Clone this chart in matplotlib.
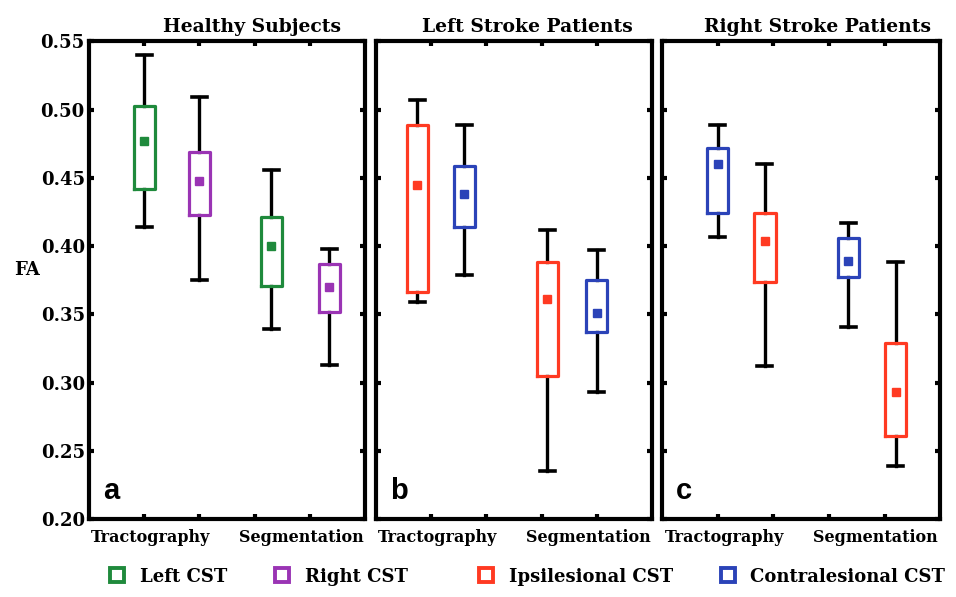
import matplotlib
matplotlib.use("Agg")
import matplotlib.pyplot as plt
from matplotlib.lines import Line2D

# ---------------- data ----------------
titles = ["Healthy Subjects", "Left Stroke Patients", "Right Stroke Patients"]
panel_letters = ["a", "b", "c"]
group_labels = ["Tractography", "Segmentation"]
y_ticks = [0.20, 0.25, 0.30, 0.35, 0.40, 0.45, 0.50, 0.55]

# series per panel (box order left to right)
series_a = ["Left CST", "Right CST", "Left CST", "Right CST"]
series_b = ["Ipsilesional CST", "Contralesional CST", "Ipsilesional CST", "Contralesional CST"]
series_c = ["Contralesional CST", "Ipsilesional CST", "Contralesional CST", "Ipsilesional CST"]

pos_a = [1.0, 2.0, 3.3, 4.35]
pos_b = [0.75, 1.6, 3.1, 4.0]
pos_c = [1.0, 1.85, 3.35, 4.2]

whishi_a = [0.540, 0.509, 0.456, 0.398]
q3_a     = [0.503, 0.469, 0.421, 0.387]
mid_a    = [0.477, 0.448, 0.400, 0.370]
q1_a     = [0.442, 0.423, 0.371, 0.352]
whislo_a = [0.414, 0.375, 0.339, 0.313]

whishi_b = [0.507, 0.489, 0.412, 0.397]
q3_b     = [0.489, 0.459, 0.388, 0.375]
mid_b    = [0.445, 0.438, 0.361, 0.351]
q1_b     = [0.366, 0.414, 0.305, 0.337]
whislo_b = [0.359, 0.379, 0.235, 0.293]

whishi_c = [0.489, 0.460, 0.417, 0.388]
q3_c     = [0.472, 0.424, 0.406, 0.329]
mid_c    = [0.460, 0.404, 0.389, 0.293]
q1_c     = [0.424, 0.374, 0.377, 0.261]
whislo_c = [0.407, 0.312, 0.341, 0.239]

colors = {
    "Left CST": "#1f8a3c",
    "Right CST": "#9a34b4",
    "Ipsilesional CST": "#ff3a22",
    "Contralesional CST": "#2b43b8",
}

panels = [
    (series_a, pos_a, whishi_a, q3_a, mid_a, q1_a, whislo_a),
    (series_b, pos_b, whishi_b, q3_b, mid_b, q1_b, whislo_b),
    (series_c, pos_c, whishi_c, q3_c, mid_c, q1_c, whislo_c),
]

# ---------------- figure ----------------
serif = ["DejaVu Serif"]
fig = plt.figure(figsize=(9.56, 5.97), dpi=100)
axes_rects = [
    [0.0931, 0.1307, 0.2887, 0.800],
    [0.3933, 0.1307, 0.2887, 0.800],
    [0.6925, 0.1307, 0.2910, 0.800],
]

for i, (rect, pdata) in enumerate(zip(axes_rects, panels)):
    names, pos, hi, q3, mid, q1, lo = pdata
    ax = fig.add_axes(rect)
    for k in range(len(names)):
        col = colors[names[k]]
        stats = [dict(med=mid[k], mean=mid[k], q1=q1[k], q3=q3[k],
                      whislo=lo[k], whishi=hi[k], fliers=[])]
        ax.bxp(stats, positions=[pos[k]], widths=0.38, capwidths=0.27,
               showmeans=True, showfliers=False, patch_artist=False,
               boxprops=dict(color=col, linewidth=2.3, zorder=3),
               whiskerprops=dict(color="black", linewidth=2.4, zorder=2),
               capprops=dict(color="black", linewidth=2.6, zorder=2),
               medianprops=dict(linewidth=0, alpha=0),
               meanprops=dict(marker="s", markersize=6,
                              markerfacecolor=col, markeredgecolor=col))
    ax.set_xlim(0, 5)
    ax.set_ylim(0.20, 0.55)
    ax.set_xticks([1, 2, 3, 4])
    ax.set_xticklabels([])
    ax.set_yticks(y_ticks)
    if i == 0:
        ax.set_yticklabels([f"{v:.2f}" for v in y_ticks], fontfamily=serif,
                           fontweight="bold", fontsize=13)
    else:
        ax.set_yticklabels([])
    ax.tick_params(axis="both", direction="in", length=3.5, width=3,
                   top=True, right=True, pad=3, colors="black")
    for sp in ax.spines.values():
        sp.set_linewidth(3)
    # group labels
    ax.text(1.12, -0.022, group_labels[0], transform=ax.get_xaxis_transform(),
            ha="center", va="top", fontfamily=serif, fontweight="bold", fontsize=11.5)
    ax.text(3.84, -0.022, group_labels[1], transform=ax.get_xaxis_transform(),
            ha="center", va="top", fontfamily=serif, fontweight="bold", fontsize=11.5)
    # title
    tx = [0.59, 0.55, 0.56][i]
    ax.text(tx, 1.012, titles[i], transform=ax.transAxes, ha="center", va="bottom",
            fontfamily=serif, fontweight="bold", fontsize=13.5)
    # panel letter
    ax.text(0.05, 0.03, panel_letters[i], transform=ax.transAxes, ha="left",
            va="bottom", fontfamily="Liberation Sans", fontweight="bold", fontsize=21)

fig.text(0.028, 0.548, "FA", ha="center", va="center", fontfamily=serif,
         fontweight="bold", fontsize=13)

# legends
def handle(name):
    return Line2D([], [], linestyle="none", marker="s", markersize=10,
                  markerfacecolor="white", markeredgecolor=colors[name],
                  markeredgewidth=2.8, label=name)

leg_font = dict(family=serif, weight="bold", size=13)
common = dict(loc="center left", ncol=2, frameon=False, prop=leg_font,
              handlelength=0.8, handletextpad=0.85, columnspacing=2.65,
              borderaxespad=0, borderpad=0)
fig.legend(handles=[handle("Left CST"), handle("Right CST")],
           bbox_to_anchor=(0.1149, 0.034), **common)
fig.legend(handles=[handle("Ipsilesional CST"), handle("Contralesional CST")],
           bbox_to_anchor=(0.5008, 0.034), **common)

fig.savefig("out.png", dpi=100)
